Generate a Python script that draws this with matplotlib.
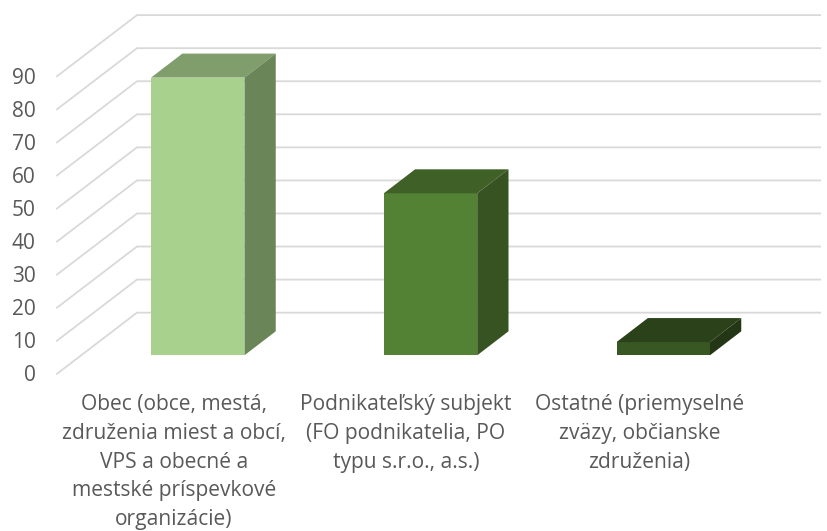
import matplotlib
matplotlib.use("Agg")
import matplotlib.pyplot as plt
from matplotlib.patches import Polygon

W, H = 828, 531
categories = [
    "Obec (obce, mestá,\nzdruženia miest a obcí,\nVPS a obecné a\nmestské príspevkové\norganizácie)",
    "Podnikateľský subjekt\n(FO podnikatelia, PO\ntypu s.r.o., a.s.)",
    "Ostatné (priemyselné\nzväzy, občianske\nzdruženia)",
]
values = [84, 49, 4]
y_ticks = list(range(0, 100, 10))
front_colors = ["#A9D18E", "#548235", "#385723"]
top_colors = ["#7F9E6B", "#3F6127", "#2A4119"]
side_colors = ["#6A8558", "#375321", "#233616"]
label_x = [-0.102, -0.105, -0.102]

PX_X = 232.75
PX_Y = 3.306
X0 = 197.75
Y0 = 355.3

fig = plt.figure(figsize=(W / 100, H / 100), dpi=100)
ax = fig.add_axes([0, 0, 1, 1])
ax.set_xlim(-X0 / PX_X, (W - X0) / PX_X)
ax.set_ylim((Y0 - H) / PX_Y, Y0 / PX_Y)
ax.axis("off")

half = 46.7 / PX_X
depth_x = 31.3 / PX_X
depth_y = 24.0 / PX_Y

wall_front_x, wall_back_x, wall_right_x = -0.605, -0.261, 2.674
wall_front_dy, wall_back_dy = -5.6, 12.9
for v in y_ticks:
    ax.plot([wall_front_x, wall_back_x, wall_right_x],
            [v + wall_front_dy, v + wall_back_dy, v + wall_back_dy],
            color="#D9D9D9", lw=1.3, solid_joinstyle="miter", zorder=1)
    ax.text(wall_front_x - 0.092, v + wall_front_dy + 0.1, str(v), ha="right", va="center_baseline",
            family="Open Sans", fontsize=15.0, color="#595959")

for i, (v, label) in enumerate(zip(values, categories)):
    l, r = i - half, i + half
    ax.add_patch(Polygon([(l, 0), (r, 0), (r, v), (l, v)], fc=front_colors[i], ec="none", zorder=3))
    ax.add_patch(Polygon([(l, v), (r, v), (r + depth_x, v + depth_y), (l + depth_x, v + depth_y)],
                         fc=top_colors[i], ec="none", zorder=3))
    ax.add_patch(Polygon([(r, 0), (r + depth_x, depth_y), (r + depth_x, v + depth_y), (r, v)],
                         fc=side_colors[i], ec="none", zorder=3))
    ax.text(i + label_x[i], -11.8, label, ha="center", va="top", family="Open Sans",
            fontsize=15.1, color="#595959", linespacing=1.48)

fig.savefig("out.png", dpi=100)
